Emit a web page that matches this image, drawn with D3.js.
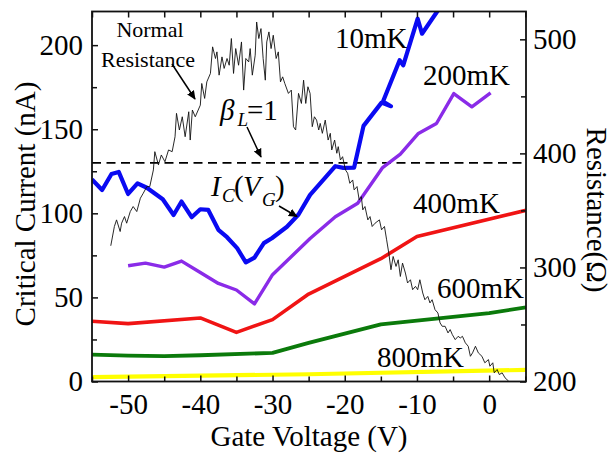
<!DOCTYPE html>
<html><head><meta charset="utf-8">
<script src="https://cdn.jsdelivr.net/npm/d3@7"></script>
<style>
body{margin:0;background:#fff}
svg{display:block}
text{font-family:"Liberation Serif","Times New Roman",serif;fill:#000}
</style>
</head><body><svg id="c" width="613" height="453"></svg>
<script>
// ---------- data ----------
const xTicks = [-50, -40, -30, -20, -10, 0];
const xMinor = [-55, -45, -35, -25, -15, -5, 5];
const leftTicks = [0, 50, 100, 150, 200];
const leftMinor = [25, 75, 125, 175];
const rightTicks = [200, 300, 400, 500];
const rightMinor = [250, 350, 450];
const betaLevel = 130;

const ic10mK = [[-55,120.2],[-53.6,113.9],[-52.3,123.4],[-51.3,124.6],[-50,111.5],[-48.7,117.8],[-47.4,115.2],[-45.2,108.4],[-43.7,99],[-42.6,107],[-41.2,97.7],[-40,102.4],[-38.9,102],[-37.5,90.2],[-36.3,85.8],[-34.9,79.3],[-33.7,70.8],[-32.5,73.7],[-31.2,82.3],[-30.1,85.2],[-28,92],[-26.4,99.3],[-24.8,111],[-21.3,128],[-20.2,127],[-18.7,127.2],[-17.4,152],[-14.9,165.8],[-13.6,163.7],[-14.7,166.5],[-12.4,191],[-11.9,188],[-9.9,215.7],[-9.3,206.8],[-7.2,220],[-6,228]];
const ic200mK = [[-50,68.8],[-47.6,70.4],[-45,68],[-42.6,71.6],[-40,64.8],[-37.5,58.3],[-35,54.4],[-32.5,46.1],[-30,63.5],[-24.8,85],[-21.3,98],[-18.2,106],[-14.8,127],[-12.3,135.2],[-9.8,147.5],[-7.3,153.4],[-4.9,171.2],[-2.4,163.3],[0.2,171.6]];
const ic400mK = [[-55,35.8],[-50,34.4],[-40,37.8],[-35,29.2],[-30,36.8],[-25,52],[-15,73],[-10,86.2],[5.1,101.8]];
const ic600mK = [[-55,16],[-50,15.4],[-45,15.1],[-40,15.6],[-30,17],[-25,23],[-15,34],[0,40.7],[5.1,44.1]];
const ic800mK = [[-55,2.6],[-25,4.3],[5.1,6.9]];

const resistance = [[-52.4,319],[-51.9,335.9],[-51.6,341.7],[-51.1,331.5],[-50.9,338.8],[-50.5,344.6],[-50.2,338.8],[-49.7,349],[-49.3,353.4],[-48.8,349],[-48.3,360.7],[-47.9,365.1],[-47.4,370.9],[-47.0,370.9],[-46.5,385.5],[-46.3,401.5],[-45.8,389.9],[-45.4,398.6],[-44.9,392.7],[-44.4,403],[-43.9,401.5],[-43.5,414.6],[-43.3,435.1],[-42.9,420.5],[-42.5,432.1],[-42.1,414.6],[-41.6,436.5],[-41.4,411.7],[-41.1,438],[-40.7,432.1],
[-40.0,442.3],[-39.8,461.3],[-39.4,448.2],[-39.1,462.7],[-38.6,470.1],[-38.3,493.4],[-37.9,483.2],[-37.7,489],[-37.4,468.6],[-37.0,484.6],[-36.7,474.5],[-36.3,483.2],[-36.0,477.3],[-35.7,500.7],[-35.4,470.1],[-35.1,491.9],[-34.7,477.3],[-34.3,497.7],[-34.0,455.5],[-33.7,483.2],[-33.3,480.2],[-33.1,491.9],[-32.8,468.6],[-32.4,486.1],[-32.2,515.2],[-31.9,500.7],[-31.6,509.4],[-31.3,483.2],[-31.0,464.2],[-30.8,497.7],[-30.5,506.5],[-30.2,491.9],[-29.9,503.6],[-29.5,483.2],[-29.2,489],[-28.9,462.7],[-28.6,467.1],
[-28.3,461.3],[-27.8,452.6],[-27.4,455.5],[-27.1,423.4],[-26.8,420.5],[-26.4,452.6],[-26.0,443.8],[-25.7,464.2],[-25.4,443.8],[-25.1,458.4],[-24.8,452.6],[-24.5,423.4],[-24.2,432.1],[-23.9,429.2],[-23.6,420.5],[-23.4,426.3],[-23.1,417.6],[-22.7,429.2],[-22.3,411.7],[-22.0,417.6],[-21.8,403],[-21.4,411.7],[-21.1,400.1],[-20.9,405.9],[-20.6,394.2],[-20.3,397.1],[-19.9,385.5],[-19.6,382.6],[-19.3,373.8],[-18.9,376.7],[-18.7,368],[-18.3,370.9],[-18.0,359.2],[-17.7,362.1],[-17.5,350.5],[-17.2,353.4],[-16.8,341.7],[-16.5,344.6],[-16.2,335.9],[-15.8,338.8],
[-15.2,341.7],[-14.9,333],[-14.5,335.9],[-14.2,324.2],[-13.9,312.6],[-13.6,298],[-13.3,309.6],[-12.9,300.9],[-12.6,306.7],[-12.3,292.1],[-12.0,303.8],[-11.6,295.1],[-11.3,286.4],[-10.9,289.2],[-10.6,280.5],[-10.2,283.4],[-9.9,280.5],[-9.6,289.2],[-9.2,277.6],[-8.9,271.7],[-8.5,274.6],[-8.2,268.9],[-7.9,271.7],[-7.5,263],[-7.1,260.1],[-6.8,251.4],[-6.5,248.4],[-6.1,248.4],[-5.7,242.6],[-5.4,245.5],[-5.1,241.1],[-4.7,236.7],[-4.3,239.6],[-4.0,238.2],[-3.7,239.6],[-3.3,233.9],[-2.9,230.9],[-2.6,222.1],[-2.3,225.1],[-1.9,230.9],[-1.5,225.1],[-1.0,222.1],[-0.6,216.4],[-0.1,219.2],[0.1,213.4],[0.5,216.4],[0.7,207.6],[1.1,210.5],[1.4,206.1],[1.8,207.6],[2.2,203.2],[2.7,200.3]];

const seriesNames = ["10mK","200mK","400mK","600mK","800mK"];
const seriesColors = ["#0a0af2","#8a2be8","#f01414","#0b7a0b","#ffff00"];
const seriesWidths = [4.2, 3.4, 3.6, 3.8, 4.2];
const seriesData = [ic10mK, ic200mK, ic400mK, ic600mK, ic800mK];

// ---------- chart ----------
const L = 92, R = 526, T = 11.5, B = 381.5;
const svg = d3.select("#c");
const x = d3.scaleLinear().domain([-55, 5.1]).range([L, R]);
const yL = d3.scaleLinear().domain([0, 220]).range([B, T]);
const yR = d3.scaleLinear().domain([200, 524.4]).range([B, T]);

svg.append("defs").append("clipPath").attr("id","clip")
  .append("rect").attr("x",L).attr("y",T).attr("width",R-L).attr("height",B-T);
const marker = svg.select("defs").append("marker").attr("id","ah")
  .attr("viewBox","0 0 10 10").attr("refX",9).attr("refY",5)
  .attr("markerWidth",9).attr("markerHeight",9).attr("markerUnits","userSpaceOnUse")
  .attr("orient","auto");
marker.append("path").attr("d","M0,0.5 L10,5 L0,9.5 Z").attr("fill","#000");

const plot = svg.append("g").attr("clip-path","url(#clip)");

// dashed beta line
plot.append("line").attr("x1",L).attr("x2",R)
  .attr("y1",yL(betaLevel)).attr("y2",yL(betaLevel))
  .attr("stroke","#000").attr("stroke-width",1.8).attr("stroke-dasharray","9,5.5");

const lineL = d3.line().x(d=>x(d[0])).y(d=>yL(d[1]));
seriesData.forEach((s,i)=>{
  plot.append("path").datum(s).attr("d",lineL).attr("fill","none")
    .attr("stroke",seriesColors[i]).attr("stroke-width",seriesWidths[i])
    .attr("stroke-linejoin","round").attr("stroke-linecap","butt");
});
const lineR = d3.line().x(d=>x(d[0])).y(d=>yR(d[1]));
plot.append("path").datum(resistance).attr("d",lineR).attr("fill","none")
  .attr("stroke","#111").attr("stroke-width",0.9);

// axes
const FS = 29;
function styleAxis(g){
  g.select(".domain").remove();
  g.selectAll(".tick line").attr("stroke","#111").attr("stroke-width",1.5);
  g.selectAll(".tick text").style("font-size",FS+"px").style("font-family","'Liberation Serif',serif").attr("fill","#000");
}
const fmt = d => d < 0 ? "-" + Math.abs(d) : String(d);
svg.append("g").attr("transform",`translate(0,${B})`)
  .call(d3.axisBottom(x).tickValues(xTicks).tickSize(-6).tickPadding(12).tickFormat(fmt)).call(styleAxis);
svg.append("g").attr("transform",`translate(0,${B})`)
  .call(d3.axisBottom(x).tickValues(xMinor).tickSize(-5).tickFormat("")).call(styleAxis);
svg.append("g").attr("transform",`translate(0,${T})`)
  .call(d3.axisTop(x).tickValues(xTicks.concat(xMinor)).tickSize(-6).tickFormat("")).call(styleAxis);
svg.append("g").attr("transform",`translate(${L},0)`)
  .call(d3.axisLeft(yL).tickValues(leftTicks).tickSize(-6).tickPadding(9)).call(styleAxis);
svg.append("g").attr("transform",`translate(${L},0)`)
  .call(d3.axisLeft(yL).tickValues(leftMinor).tickSize(-5).tickFormat("")).call(styleAxis);
svg.append("g").attr("transform",`translate(${R},0)`)
  .call(d3.axisRight(yR).tickValues(rightTicks).tickSize(-6).tickPadding(7)).call(styleAxis);
svg.append("g").attr("transform",`translate(${R},0)`)
  .call(d3.axisRight(yR).tickValues(rightMinor).tickSize(-5).tickFormat("")).call(styleAxis);

svg.append("rect").attr("x",L).attr("y",T).attr("width",R-L).attr("height",B-T)
  .attr("fill","none").attr("stroke","#111").attr("stroke-width",1.8);

// axis titles
svg.append("text").attr("x",(L+R)/2).attr("y",446).attr("text-anchor","middle")
  .style("font-size","29px").text("Gate Voltage (V)");
svg.append("text").attr("transform","translate(35,204) rotate(-90)").attr("text-anchor","middle")
  .style("font-size","29px").text("Critical Current (nA)");
svg.append("text").attr("transform","translate(587,210) rotate(90)").attr("text-anchor","middle")
  .style("font-size","29px").text("Resistance(Ω)");

// series labels
const labelPos = [[335,48],[423,85],[413,213],[437,298],[377,367]];
seriesNames.forEach((n,i)=>{
  svg.append("text").attr("x",labelPos[i][0]).attr("y",labelPos[i][1])
    .style("font-size","29px").text(n);
});

// annotations
svg.append("text").attr("x",150).attr("y",37).attr("text-anchor","middle").style("font-size","22px").text("Normal");
svg.append("text").attr("x",148).attr("y",67).attr("text-anchor","middle").style("font-size","22px").text("Resistance");

const beta = svg.append("text").style("font-size","29px");
beta.append("tspan").attr("x",220).attr("y",120).style("font-style","italic").text("β");
beta.append("tspan").attr("x",237.5).attr("y",126).style("font-style","italic").style("font-size","19px").text("L");
beta.append("tspan").attr("x",247).attr("y",120).text("=1");

const ic = svg.append("text").style("font-size","29px");
ic.append("tspan").attr("x",211).attr("y",196).style("font-style","italic").text("I");
ic.append("tspan").attr("x",222).attr("y",202).style("font-style","italic").style("font-size","19px").text("C");
ic.append("tspan").attr("x",234).attr("y",196).text("(");
ic.append("tspan").attr("x",243).attr("y",196).style("font-style","italic").text("V");
ic.append("tspan").attr("x",262).attr("y",206).style("font-style","italic").style("font-size","19px").text("G");
ic.append("tspan").attr("x",275).attr("y",196).text(")");

const arrows = [[172,64,195,99],[247,127,261,157],[279,206,297,216.5]];
arrows.forEach(a=>{
  svg.append("line").attr("x1",a[0]).attr("y1",a[1]).attr("x2",a[2]).attr("y2",a[3])
    .attr("stroke","#000").attr("stroke-width",1.5).attr("marker-end","url(#ah)");
});
</script>
</body></html>
